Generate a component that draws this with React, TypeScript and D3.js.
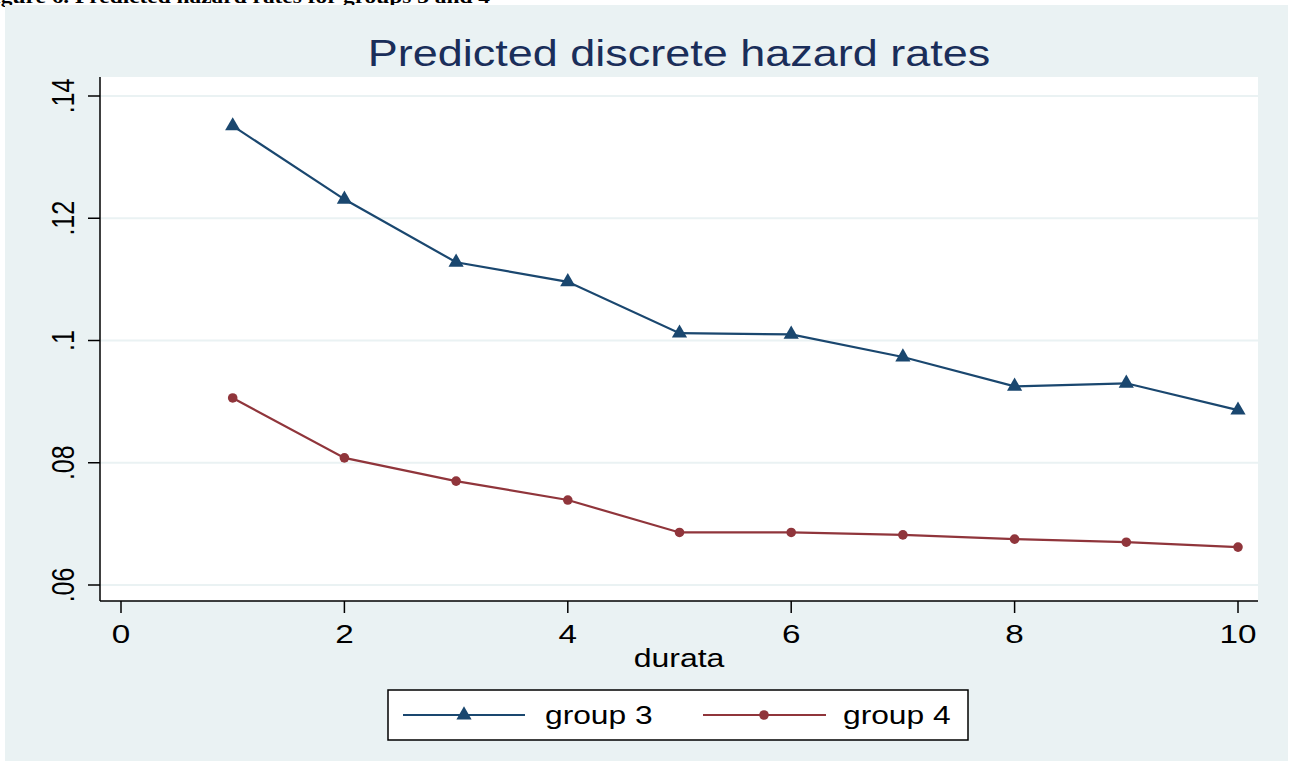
import React from "react";
import * as d3 from "d3";

const durata = [1, 2, 3, 4, 5, 6, 7, 8, 9, 10];
const group3 = [0.1351, 0.1231, 0.1128, 0.1096, 0.1012, 0.101, 0.0973, 0.0925, 0.093, 0.0886];
const group4 = [0.0906, 0.0808, 0.077, 0.0739, 0.0686, 0.0686, 0.0682, 0.0675, 0.067, 0.0662];
const xTicks = [0, 2, 4, 6, 8, 10];
const yTicks = [0.06, 0.08, 0.1, 0.12, 0.14];
const yTickLabels = [".06", ".08", ".1", ".12", ".14"];
const seriesNames = ["group 3", "group 4"];

const W = 1291, H = 765;
const plot = { left: 100, right: 1258, top: 77, bottom: 601 };
const FONT = "'Liberation Sans', Arial, sans-serif";
const NAVY = "#1a476f";
const MAROON = "#90353b";
const BG = "#eaf2f3";
const SX = 1.28;

export default function App() {
  const x = d3.scaleLinear().domain([0, 10]).range([121, 1238]);
  const y = d3.scaleLinear().domain([0.06, 0.14]).range([585, 96]);
  const line = d3.line<number>().x((_, i) => x(durata[i])).y((d) => y(d));
  const tri = d3.symbol().type(d3.symbolTriangle).size(100)();

  return (
    <svg width={W} height={H} style={{ position: "absolute", left: 0, top: 0 }} xmlns="http://www.w3.org/2000/svg">
      <rect x={0} y={0} width={W} height={H} fill="#ffffff" />
      <text x={-20} y={3} fontFamily="'Liberation Serif', serif" fontWeight="bold" fontSize={18}
        textLength={510} lengthAdjust="spacingAndGlyphs">
        Figure 6. Predicted hazard rates for groups 3 and 4
      </text>
      <rect x={5} y={5} width={W - 8} height={H - 9} fill={BG} />
      <text transform={`translate(679,66) scale(1.25,1)`} textAnchor="middle" fontFamily={FONT} fontSize={36} fill="#1a2e5a">
        Predicted discrete hazard rates
      </text>
      <rect x={plot.left} y={plot.top} width={plot.right - plot.left} height={plot.bottom - plot.top} fill="#ffffff" />
      {yTicks.map((t) => (
        <line key={"g" + t} x1={plot.left} x2={plot.right} y1={y(t)} y2={y(t)} stroke={BG} strokeWidth={2} />
      ))}
      <line x1={plot.left} x2={plot.left} y1={plot.top} y2={plot.bottom} stroke="#000" strokeWidth={1.5} />
      <line x1={plot.left} x2={plot.right} y1={plot.bottom} y2={plot.bottom} stroke="#000" strokeWidth={1.5} />
      {yTicks.map((t, i) => (
        <g key={"y" + t}>
          <line x1={plot.left - 12} x2={plot.left} y1={y(t)} y2={y(t)} stroke="#000" strokeWidth={1.5} />
          <text
            transform={`translate(${plot.left - 26},${y(t)}) scale(${SX},1) rotate(-90)`}
            textAnchor="middle"
            fontFamily={FONT}
            fontSize={25}
            fill="#000"
          >
            {yTickLabels[i]}
          </text>
        </g>
      ))}
      {xTicks.map((t) => (
        <g key={"x" + t}>
          <line x1={x(t)} x2={x(t)} y1={plot.bottom} y2={plot.bottom + 12} stroke="#000" strokeWidth={1.5} />
          <text transform={`translate(${x(t)},${plot.bottom + 42}) scale(${SX},1)`} textAnchor="middle" fontFamily={FONT} fontSize={26} fill="#000">
            {t}
          </text>
        </g>
      ))}
      <text transform={`translate(679,667) scale(${SX},1)`} textAnchor="middle" fontFamily={FONT} fontSize={25} fill="#000">
        durata
      </text>
      <path d={line(group3) ?? ""} fill="none" stroke={NAVY} strokeWidth={2.2} />
      <path d={line(group4) ?? ""} fill="none" stroke={MAROON} strokeWidth={2.2} />
      {group3.map((v, i) => (
        <path key={"m3" + i} d={tri ?? ""} transform={`translate(${x(durata[i])},${y(v)})`} fill={NAVY} />
      ))}
      {group4.map((v, i) => (
        <circle key={"m4" + i} cx={x(durata[i])} cy={y(v)} r={4.8} fill={MAROON} />
      ))}
      <rect x={388} y={690} width={580} height={50} fill="#fff" stroke="#000" strokeWidth={1.5} />
      <line x1={403} x2={525} y1={715} y2={715} stroke={NAVY} strokeWidth={2.2} />
      <path d={tri ?? ""} transform={`translate(464,715)`} fill={NAVY} />
      <text transform={`translate(545,724) scale(1.27,1)`} fontFamily={FONT} fontSize={25} fill="#000">{seriesNames[0]}</text>
      <line x1={703} x2={826} y1={715} y2={715} stroke={MAROON} strokeWidth={2.2} />
      <circle cx={764} cy={715} r={4.8} fill={MAROON} />
      <text transform={`translate(843,724) scale(1.27,1)`} fontFamily={FONT} fontSize={25} fill="#000">{seriesNames[1]}</text>
    </svg>
  );
}
